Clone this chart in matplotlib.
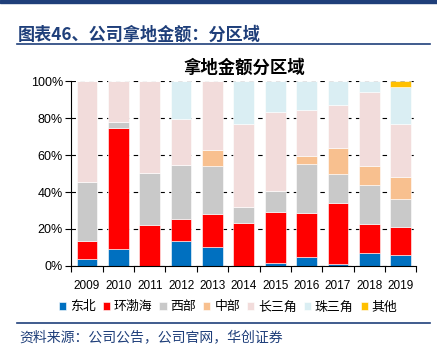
import numpy as np
import matplotlib.pyplot as plt
from matplotlib.patches import Rectangle
from matplotlib.lines import Line2D

plt.rcParams['font.family'] = ['Liberation Sans', 'Noto Sans CJK SC', 'DejaVu Sans']

years = ['2009', '2010', '2011', '2012', '2013', '2014', '2015', '2016', '2017', '2018', '2019']
regions = ['东北', '环渤海', '西部', '中部', '长三角', '珠三角', '其他']
colors = ['#0070C0', '#FF0000', '#C9C9C9', '#F8C08F', '#F2DCDB', '#DAEEF3', '#FFC000']

# share of each region (%) per year
dongbei = [3.8, 9.2, 0.0, 13.7, 10.3, 0.0, 1.8, 4.9, 1.1, 6.8, 5.9]
huanbohai = [9.7, 65.6, 22.0, 11.7, 18.0, 23.2, 27.4, 23.7, 33.1, 16.1, 15.4]
xibu = [32.1, 3.0, 28.5, 29.4, 25.9, 8.9, 11.5, 26.7, 15.3, 20.7, 14.9]
zhongbu = [0.0, 0.0, 0.0, 0.0, 8.3, 0.0, 0.0, 4.3, 14.5, 10.5, 12.1]
changsanjiao = [54.4, 22.2, 49.5, 24.5, 37.5, 44.8, 42.4, 24.9, 23.2, 40.1, 28.6]
zhusanjiao = [0.0, 0.0, 0.0, 20.7, 0.0, 23.1, 16.9, 15.5, 12.8, 5.8, 20.2]
qita = [0.0, 0.0, 0.0, 0.0, 0.0, 0.0, 0.0, 0.0, 0.0, 0.0, 2.9]
series = [dongbei, huanbohai, xibu, zhongbu, changsanjiao, zhusanjiao, qita]

navy = '#1F3F7A'
fig = plt.figure(figsize=(4.37, 3.56), dpi=100)

# header decorations
fig.patches.append(Rectangle((0, 0.991), 1, 0.009, transform=fig.transFigure, color=navy))
fig.lines.append(Line2D([0.04, 0.985], [0.876, 0.876], transform=fig.transFigure, color=navy, lw=1.2))
fig.lines.append(Line2D([0.04, 0.985], [0.093, 0.093], transform=fig.transFigure, color=navy, lw=1.2))
fig.text(0.040, 0.902, '图表46、公司拿地金额：分区域', fontsize=12.3, fontweight='bold',
         color=navy, family=['Noto Sans CJK SC'], va='center')
fig.text(0.045, 0.053, '资料来源：公司公告，公司官网，华创证券', fontsize=10, color=navy,
         family=['Noto Sans CJK SC'], va='center')

ax = fig.add_axes([0.163, 0.253, 0.790, 0.519])
x = np.arange(len(years))
bottom = np.zeros(len(years))
for name, vals, c in zip(regions, series, colors):
    vals = np.array(vals)
    ax.bar(x, vals, 0.66, bottom=bottom, color=c, label=name, edgecolor='white',
           linewidth=0.4, zorder=2)
    bottom += vals

ax.set_xlim(-0.5, len(years) - 0.5)
ax.set_ylim(0, 100)
ax.set_yticks([0, 20, 40, 60, 80, 100])
ax.set_yticklabels(['0%', '20%', '40%', '60%', '80%', '100%'], fontsize=9)
ax.yaxis.grid(True, color='black', linestyle=(0, (4, 4)), linewidth=0.8, zorder=0)
ax.set_axisbelow(True)
ax.set_xticks(x)
ax.set_xticklabels(years, fontsize=8.5)
ax.tick_params(axis='x', length=0, pad=10)
ax.set_xticks(np.arange(-0.5, len(years)), minor=True)
ax.tick_params(axis='x', which='minor', length=4, direction='out', width=0.8)
ax.tick_params(axis='y', length=4, direction='out', width=0.8, pad=2)
for s in ['top', 'right']:
    ax.spines[s].set_visible(False)
ax.spines['left'].set_linewidth(0.8)
ax.spines['bottom'].set_linewidth(0.8)

ax.set_title('拿地金额分区域', fontsize=12.5, fontweight='bold', pad=6,
             family=['Noto Sans CJK SC'])

fig.legend(loc='center', bbox_to_anchor=(0.522, 0.138), ncol=7, frameon=False,
           handlelength=0.55, handleheight=0.55, handletextpad=0.3, columnspacing=0.55,
           prop={'family': 'Noto Sans CJK SC', 'size': 9.3})

plt.savefig('out.png', dpi=100)
